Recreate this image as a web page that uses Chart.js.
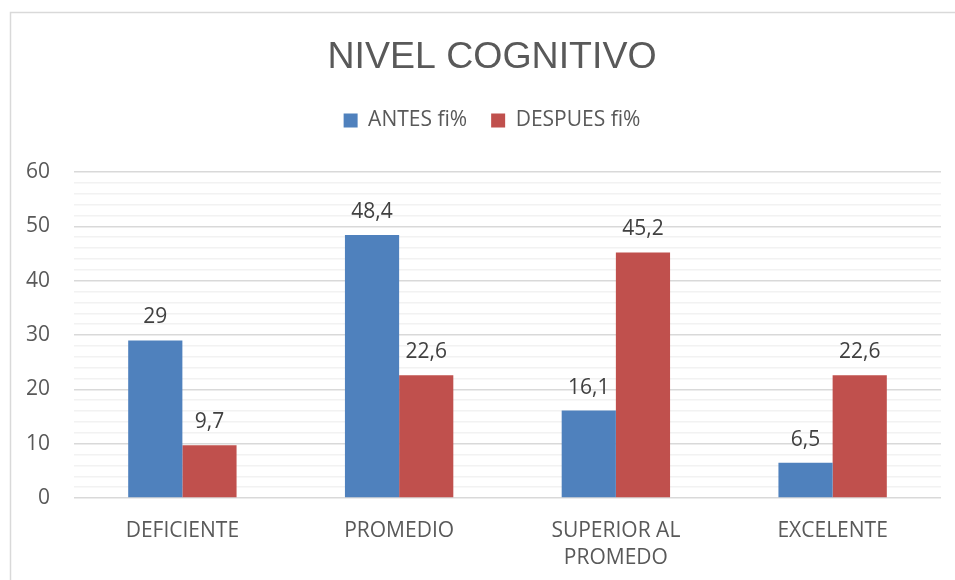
<!DOCTYPE html>
<html>
<head>
<meta charset="utf-8">
<script src="https://cdn.jsdelivr.net/npm/chart.js@4.4.1/dist/chart.umd.min.js"></script>
<style>
  html, body { margin: 0; padding: 0; background: #fff; }
  #wrap { position: relative; width: 955px; height: 580px; }
</style>
</head>
<body>
<div id="wrap"><canvas id="chart" width="955" height="580"></canvas></div>
<script>
// chart data
const categories = ['DEFICIENTE', 'PROMEDIO', ['SUPERIOR AL', 'PROMEDO'], 'EXCELENTE'];
const antes = [29, 48.4, 16.1, 6.5];
const despues = [9.7, 22.6, 45.2, 22.6];
const yTicks = [0, 10, 20, 30, 40, 50, 60];

const FONT = '"Open Sans", "DejaVu Sans", sans-serif';
const TITLE_FONT = '"Liberation Sans", Arial, sans-serif';
const TEXT = '#595959';

// frame line on the left and top, like the spreadsheet chart border
const framePlugin = {
    id: 'frame',
    beforeDraw(chart) {
        const ctx = chart.ctx;
        ctx.save();
        ctx.strokeStyle = '#d9d9d9';
        ctx.lineWidth = 1.5;
        ctx.beginPath();
        ctx.moveTo(10.5, 580);
        ctx.lineTo(10.5, 12.5);
        ctx.lineTo(955, 12.5);
        ctx.stroke();
        ctx.restore();
    }
};

// value labels above each bar, decimal comma
const valueLabels = {
    id: 'valueLabels',
    afterDatasetsDraw(chart) {
        const ctx = chart.ctx;
        ctx.save();
        ctx.font = '21px ' + FONT;
        ctx.fillStyle = '#404040';
        ctx.textAlign = 'center';
        ctx.textBaseline = 'middle';
        chart.data.datasets.forEach((ds, i) => {
            chart.getDatasetMeta(i).data.forEach((bar, j) => {
                const txt = String(ds.data[j]).replace('.', ',');
                ctx.fillText(txt, bar.x, bar.y - 23);
            });
        });
        ctx.restore();
    }
};

// extra room under the legend, and title + legend centred on the full frame
const headerLayout = {
    id: 'headerLayout',
    beforeInit(chart) {
        const fit = chart.legend.fit;
        chart.legend.fit = function() {
            fit.bind(chart.legend)();
            this.height += 31;
        };
    },
    afterLayout(chart) {
        const shift = 21.5;
        [chart.titleBlock, chart.legend].forEach(box => {
            box.left += shift;
            box.right += shift;
        });
    }
};

new Chart(document.getElementById('chart'), {
    type: 'bar',
    data: {
        labels: categories,
        datasets: [
            { label: 'ANTES fi%', data: antes, backgroundColor: '#4f81bd' },
            { label: 'DESPUES fi%', data: despues, backgroundColor: '#c0504d' }
        ]
    },
    options: {
        responsive: false,
        animation: false,
        layout: { padding: { left: 0, right: 14, top: 0, bottom: 0 } },
        datasets: { bar: { categoryPercentage: 0.5, barPercentage: 1.0 } },
        plugins: {
            title: {
                display: true,
                text: 'NIVEL COGNITIVO',
                color: TEXT,
                font: { family: TITLE_FONT, size: 37.5, weight: 'normal' },
                padding: { top: 35.5, bottom: 5.5 }
            },
            legend: {
                display: true,
                position: 'top',
                labels: {
                    color: TEXT,
                    font: { family: FONT, size: 21 },
                    boxWidth: 14,
                    boxHeight: 14,
                    padding: 24
                }
            },
            tooltip: { enabled: false }
        },
        scales: {
            x: {
                grid: { display: false },
                border: { display: false },
                ticks: {
                    color: TEXT,
                    font: { family: FONT, size: 21, lineHeight: 1.3 },
                    padding: 11,
                    maxRotation: 0
                },
                afterFit(scale) { scale.height = 82; }
            },
            y: {
                min: 0,
                max: 60,
                grid: {
                    drawTicks: false,
                    color: ctx => (yTicks.includes(ctx.tick.value) ? '#d9d9d9' : '#f2f2f2'),
                    lineWidth: 1.5
                },
                border: { display: false },
                ticks: {
                    stepSize: 2,
                    autoSkip: false,
                    color: TEXT,
                    font: { family: FONT, size: 21 },
                    padding: 24,
                    callback: v => (yTicks.includes(v) ? String(v) : '')
                },
                afterFit(scale) { scale.width = 74; }
            }
        }
    },
    plugins: [framePlugin, valueLabels, headerLayout]
});
</script>
</body>
</html>
